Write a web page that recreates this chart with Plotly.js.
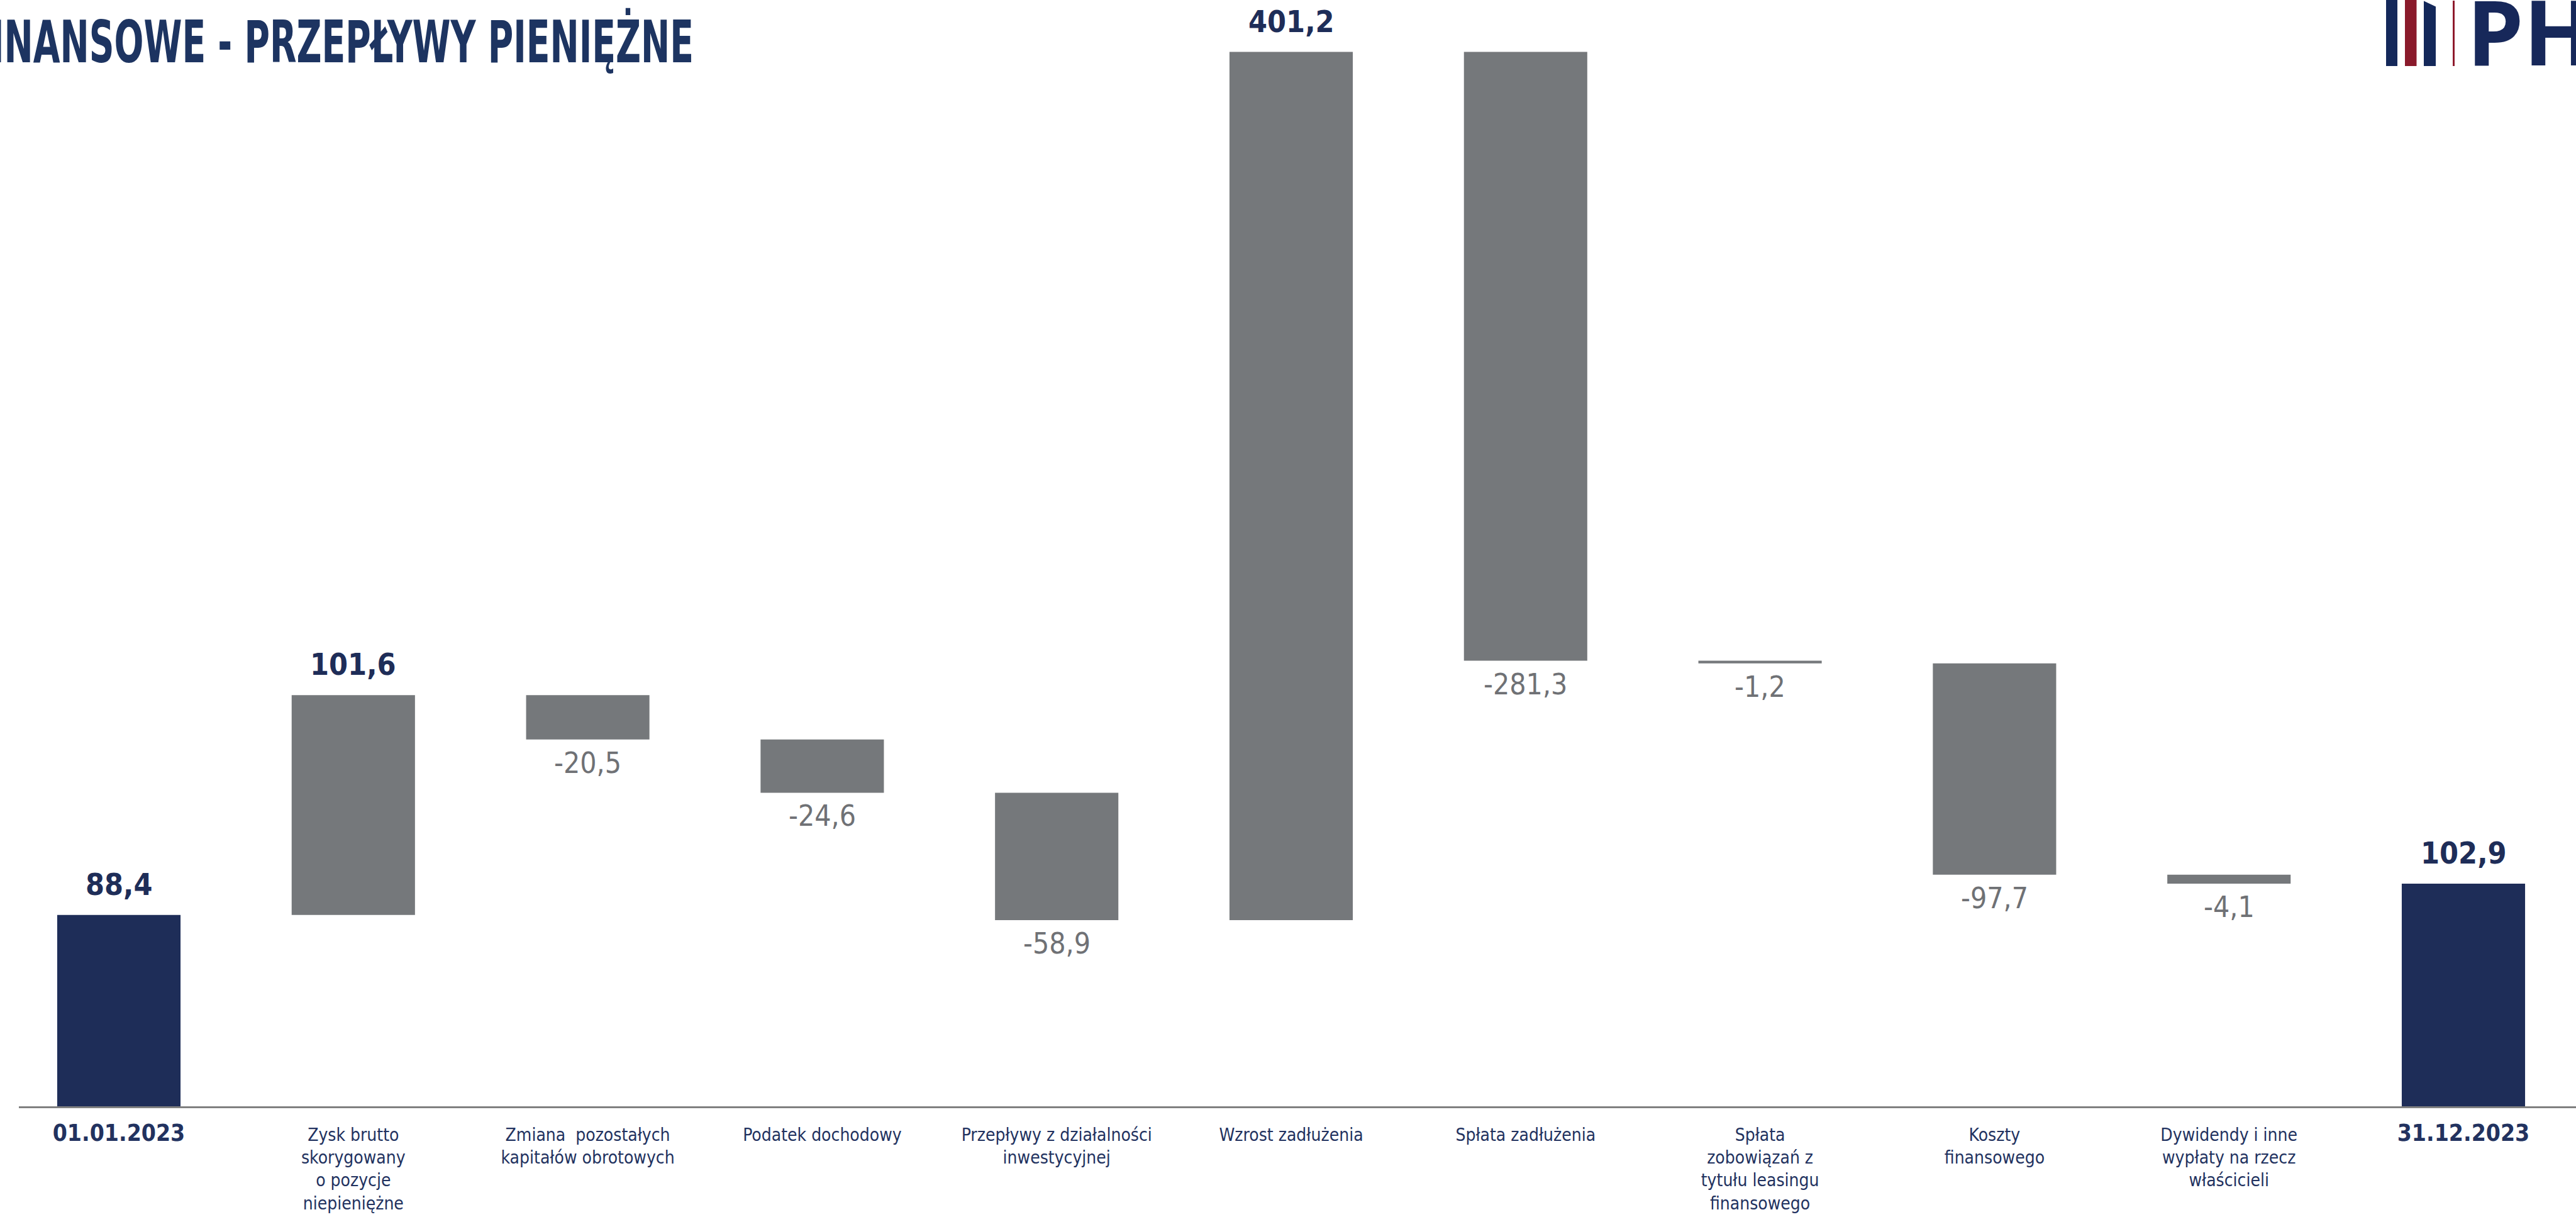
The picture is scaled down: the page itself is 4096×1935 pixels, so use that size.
<!DOCTYPE html>
<html>
<head>
<meta charset="utf-8">
<script src="https://cdn.plot.ly/plotly-3.0.1.min.js"></script>
<style>
  html, body { margin: 0; padding: 0; background: #ffffff; }
  #chart { width: 4096px; height: 1935px; }
</style>
</head>
<body>
<div id="chart"></div>
<script>
// ---------------- DATA ----------------
const categories = [
  "01.01.2023",
  "Zysk brutto skorygowany o pozycje niepieniężne",
  "Zmiana pozostałych kapitałów obrotowych",
  "Podatek dochodowy",
  "Przepływy z działalności inwestycyjnej",
  "Wzrost zadłużenia",
  "Spłata zadłużenia",
  "Spłata zobowiązań z tytułu leasingu finansowego",
  "Koszty finansowego",
  "Dywidendy i inne wypłaty na rzecz właścicieli",
  "31.12.2023"
];
const values = [88.4, 101.6, -20.5, -24.6, -58.9, 401.2, -281.3, -1.2, -97.7, -4.1, 102.9];
const measures = ["absolute", "relative", "relative", "relative", "relative", "relative",
                  "relative", "relative", "relative", "relative", "total"];
const tickLabels = [
  "<b><span style=\"font-size:37px\">01.01.2023</span></b>",
  "Zysk brutto<br>skorygowany<br>o pozycje<br>niepieniężne",
  "Zmiana\u00a0 pozostałych<br>kapitałów obrotowych",
  "Podatek dochodowy",
  "Przepływy z działalności<br>inwestycyjnej",
  "Wzrost zadłużenia",
  "Spłata zadłużenia",
  "Spłata<br>zobowiązań z<br>tytułu leasingu<br>finansowego",
  "Koszty<br>finansowego",
  "Dywidendy i inne<br>wypłaty na rzecz<br>właścicieli",
  "<b><span style=\"font-size:37px\">31.12.2023</span></b>"
];
const titleText = "INANSOWE - PRZEPŁYWY PIENIĘŻNE";

// ---------------- STYLE ----------------
const W = 4096, H = 1935;
const M = { l: 30, r: 0, t: 40, b: 176 };
const plotW = W - M.l - M.r, plotH = H - M.t - M.b;
const NARROW = "Liberation Sans Narrow, DejaVu Sans Condensed, Arial Narrow, sans-serif";
const NAVY = "#1e2d58";
const GREY_BAR = "#75787b";
const GREY_TXT = "#6f7175";

const xp = px => (px - M.l) / plotW;
const yp = py => (H - M.b - py) / plotH;

// value labels, positioned from the running totals
const fmt = v => v.toFixed(1).replace(".", ",");
const annotations = [];
let cum = 0;
values.forEach((v, i) => {
  let lo, hi;
  if (measures[i] === "absolute") { lo = 0; hi = v; cum = v; }
  else if (measures[i] === "total") { lo = 0; hi = cum; }
  else { lo = Math.min(cum, cum + v); hi = Math.max(cum, cum + v); cum += v; }
  const positive = measures[i] !== "relative" || v >= 0;
  annotations.push(positive ? {
    x: categories[i], y: hi, xref: "x", yref: "y", text: fmt(v), showarrow: false,
    yanchor: "bottom", yshift: 19,
    font: { family: NARROW, size: 48, color: NAVY, weight: 700 }
  } : {
    x: categories[i], y: lo, xref: "x", yref: "y", text: fmt(v), showarrow: false,
    yanchor: "top", yshift: -8,
    font: { family: NARROW, size: 46, color: GREY_TXT }
  });
});

// logo "PH"
annotations.push({
  xref: "paper", yref: "paper", x: xp(3921), y: yp(148), xanchor: "left", yanchor: "bottom",
  text: "PH", showarrow: false,
  font: { family: "Noto Sans, Open Sans, sans-serif", size: 144, color: "#17285a", weight: 700 }
});

const rectShape = (x0, x1, y0, y1, color) => ({
  type: "rect", xref: "paper", yref: "paper",
  x0: xp(x0), x1: xp(x1), y0: yp(y1), y1: yp(y0),
  fillcolor: color, line: { width: 0 }, layer: "above"
});
const shapes = [
  rectShape(3794, 3812, 0, 105, "#14285a"),
  rectShape(3824, 3842.5, 0, 105, "#8a1a2b"),
  {
    type: "path", xref: "paper", yref: "paper", layer: "above",
    path: `M ${xp(3854)} ${yp(105)} L ${xp(3854)} ${yp(1.6)} L ${xp(3873)} ${yp(10.5)} L ${xp(3873)} ${yp(105)} Z`,
    fillcolor: "#14285a", line: { width: 0 }
  },
  rectShape(3900, 3903, 1, 105, "#8e1a2c")
];

const trace = {
  type: "waterfall",
  x: categories,
  y: values,
  measure: measures,
  textinfo: "none",
  hoverinfo: "none",
  connector: { visible: false },
  increasing: { marker: { color: GREY_BAR } },
  decreasing: { marker: { color: GREY_BAR } },
  totals: { marker: { color: NAVY } }
};

const pxPerCat = 372.8;
const cat0 = 189;
const xStart = -(cat0 - M.l) / pxPerCat;
const xEnd = xStart + plotW / pxPerCat;
const pxPerUnit = 3.441;

const layout = {
  width: W, height: H,
  margin: M,
  paper_bgcolor: "#ffffff",
  plot_bgcolor: "#ffffff",
  showlegend: false,
  separators: ", ",
  waterfallgap: 0.474,
  title: {
    text: "<b>" + titleText + "</b>",
    xref: "container", x: 0, xanchor: "left",
    yref: "container", y: 1 - 34 / H, yanchor: "top",
    font: { family: NARROW, size: 93, color: "#1d3461", weight: 700 }
  },
  xaxis: {
    type: "category",
    range: [xStart, xEnd],
    tickvals: categories,
    ticktext: tickLabels,
    ticks: "",
    showgrid: false,
    zeroline: false,
    showline: true,
    linecolor: "#808080",
    linewidth: 3,
    layer: "below traces",
    ticklabelstandoff: 18,
    tickfont: { family: NARROW, size: 28, color: "#22325f" },
    fixedrange: true
  },
  yaxis: {
    range: [0, plotH / pxPerUnit],
    visible: false,
    showgrid: false,
    zeroline: false,
    fixedrange: true
  },
  annotations: annotations,
  shapes: shapes
};

Plotly.newPlot("chart", [trace], layout, { displayModeBar: false, staticPlot: true }).then(() => {
  const t = document.querySelector(".gtitle");
  if (t) {
    t.setAttribute("x", -14);
    t.setAttribute("textLength", 1117);
    t.setAttribute("lengthAdjust", "spacingAndGlyphs");
  }
});
</script>
</body>
</html>
